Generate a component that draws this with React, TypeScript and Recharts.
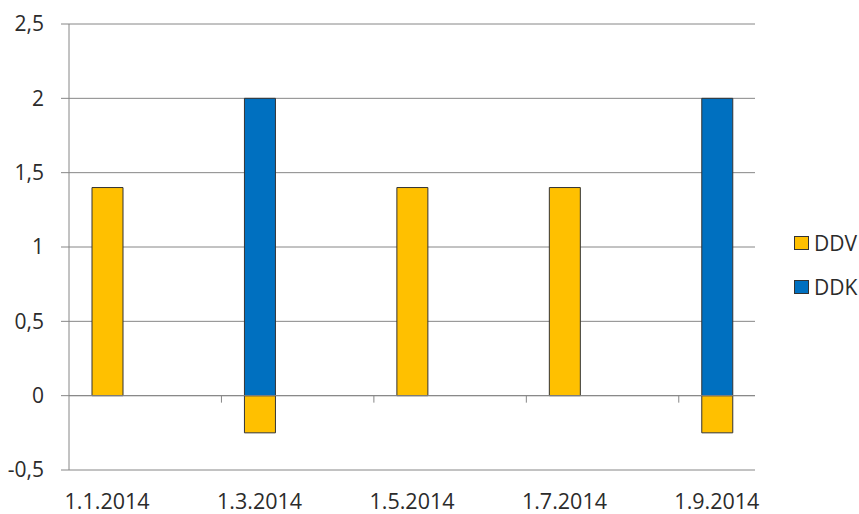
import React from "react";
import {
  BarChart,
  Bar,
  XAxis,
  YAxis,
  CartesianGrid,
  Legend,
  ReferenceLine,
} from "recharts";

// one slot per month, labels only on every second month
const months = [
  "1.1.2014",
  "1.2.2014",
  "1.3.2014",
  "1.4.2014",
  "1.5.2014",
  "1.6.2014",
  "1.7.2014",
  "1.8.2014",
  "1.9.2014",
];
const ddv = [1.4, null, -0.25, null, 1.4, null, 1.4, null, -0.25];
const ddk = [null, null, 2, null, null, null, null, null, 2];
const monthTicks = ["1.1.2014", "1.3.2014", "1.5.2014", "1.7.2014", "1.9.2014"];
const valueTicks = [-0.5, 0, 0.5, 1, 1.5, 2, 2.5];

const series = [
  { key: "DDV", color: "#FFC000" },
  { key: "DDK", color: "#0070C0" },
];

const data = months.map((m, i) => ({ month: m, DDV: ddv[i], DDK: ddk[i] }));

const GRAY = "#868686";
const TEXT = "#2b2b2b";

const LegendBox = () => (
  <div>
    {series.map((s, i) => (
      <div
        key={s.key}
        style={{
          display: "flex",
          alignItems: "center",
          height: 22,
          marginTop: i ? 22 : 0,
          fontSize: 21,
          color: TEXT,
        }}
      >
        <span
          style={{
            width: 13,
            height: 12,
            background: s.color,
            border: "1px solid #333",
            marginRight: 5,
          }}
        />
        {s.key}
      </div>
    ))}
  </div>
);

export default function App() {
  return (
    <div style={{ fontFamily: "'Open Sans', sans-serif" }}>
      <style>{"body{margin:0}"}</style>
      <BarChart
        width={859}
        height={514}
        data={data}
        stackOffset="sign"
        margin={{ top: 24, right: 39, left: 0, bottom: 0 }}
      >
        <CartesianGrid vertical={false} stroke={GRAY} />
        <XAxis
          dataKey="month"
          ticks={monthTicks}
          interval={0}
          axisLine={false}
          tickLine={false}
          tickSize={0}
          tickMargin={24}
          height={44}
          tick={{ fill: TEXT, fontSize: 21.5 }}
        />
        <YAxis
          domain={[-0.5, 2.5]}
          ticks={valueTicks}
          width={69}
          stroke={GRAY}
          tickSize={8}
          tickMargin={17}
          tick={{ fill: TEXT, fontSize: 21 }}
          tickFormatter={(v: number) => String(v).replace(".", ",")}
        />
        <Legend
          layout="vertical"
          align="right"
          verticalAlign="top"
          wrapperStyle={{ left: 794, top: 232, width: 65 }}
          content={() => <LegendBox />}
        />
        {series.map((s) => (
          <Bar
            key={s.key}
            dataKey={s.key}
            stackId="a"
            fill={s.color}
            stroke="#333"
            strokeWidth={1}
            barSize={31}
            isAnimationActive={false}
          />
        ))}
        <ReferenceLine y={0} stroke={GRAY} />
        {/* axis tick marks on the zero line, between month pairs */}
        {monthTicks.slice(1).map((m) => (
          <ReferenceLine
            key={m}
            segment={[
              { x: m, y: 0 },
              { x: m, y: -0.047 },
            ]}
            position="start"
            stroke={GRAY}
          />
        ))}
      </BarChart>
    </div>
  );
}
